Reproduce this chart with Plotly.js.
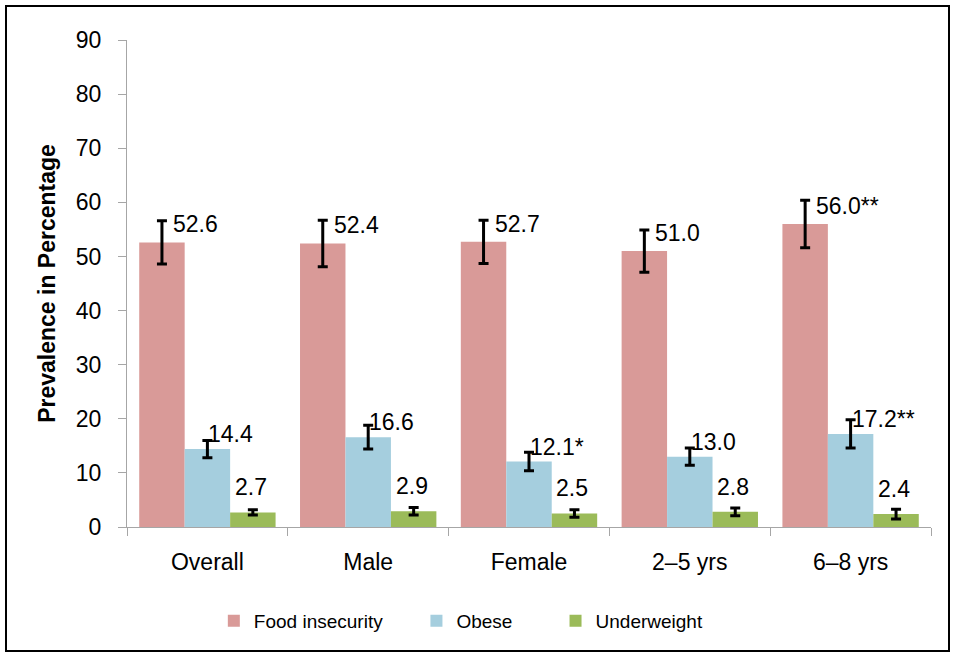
<!DOCTYPE html>
<html>
<head>
<meta charset="utf-8">
<script src="https://cdn.plot.ly/plotly-3.0.1.min.js"></script>
<style>
  html, body { margin: 0; padding: 0; background: #fff; }
  #wrap { position: relative; width: 957px; height: 657px; }
  #chart { width: 957px; height: 657px; }
  #frame { position: absolute; left: 5px; top: 5px; width: 941px; height: 643px;
           border: 2px solid #000; pointer-events: none; }
</style>
</head>
<body>
<div id="wrap">
  <div id="chart"></div>
  <div id="frame"></div>
</div>
<script>
// ---- data ----
const categories = ["Overall", "Male", "Female", "2\u20135 yrs", "6\u20138 yrs"];
const foodInsecurity = [52.6, 52.4, 52.7, 51.0, 56.0];
const foodErr        = [4.0, 4.3, 4.0, 3.9, 4.4];
const obese          = [14.4, 16.6, 12.1, 13.0, 17.2];
const obeseErr       = [1.6, 2.2, 1.7, 1.6, 2.6];
const underweight    = [2.7, 2.9, 2.5, 2.8, 2.4];
const underErr       = [0.5, 0.7, 0.7, 0.7, 0.9];
const foodLabels  = ["52.6", "52.4", "52.7", "51.0", "56.0**"];
const obeseLabels = ["14.4", "16.6", "12.1*", "13.0", "17.2**"];
const underLabels = ["2.7", "2.9", "2.5", "2.8", "2.4"];

// ---- styling ----
const FONT = "Liberation Sans, Arial, sans-serif";
const BARGAP = 0.152;
const barW = (1 - BARGAP) / 3;

function errBar(arr) {
  return { type: "data", array: arr, visible: true, color: "#000", thickness: 3, width: 5 };
}

const traces = [
  { type: "bar", name: "Food insecurity", x: categories, y: foodInsecurity, legend: "legend",
    marker: { color: "#D99A98" }, error_y: errBar(foodErr), hoverinfo: "y" },
  { type: "bar", name: "Obese", x: categories, y: obese, legend: "legend2",
    marker: { color: "#A5CEDE" }, error_y: errBar(obeseErr), hoverinfo: "y" },
  { type: "bar", name: "Underweight", x: categories, y: underweight, legend: "legend3",
    marker: { color: "#9BBB59" }, error_y: errBar(underErr), hoverinfo: "y" }
];

const annotations = [];
function addLabels(vals, labels, offset, xanchor, xshift, yshift) {
  vals.forEach((v, i) => {
    annotations.push({
      x: i + offset, y: v, xref: "x", yref: "y", text: labels[i], showarrow: false,
      xanchor: xanchor, yanchor: "middle", xshift: xshift, yshift: yshift,
      font: { family: FONT, size: 23, color: "#000" }
    });
  });
}
addLabels(foodInsecurity, foodLabels, -barW, "left", 9, 18);
addLabels(obese, obeseLabels, 0, "left", -1, 15);
addLabels(underweight, underLabels, barW, "center", -2, 25);

function legendAt(xFrac) {
  return {
    orientation: "h", x: xFrac, xanchor: "left", y: -0.193, yanchor: "middle",
    font: { family: FONT, size: 19, color: "#000" }, bgcolor: "rgba(0,0,0,0)"
  };
}

const layout = {
  width: 957, height: 657,
  margin: { l: 126.5, r: 25.5, t: 40, b: 130 },
  paper_bgcolor: "#fff", plot_bgcolor: "#fff",
  barmode: "group", bargap: BARGAP, bargroupgap: 0,
  showlegend: true,
  font: { family: FONT, size: 23, color: "#000" },
  xaxis: {
    type: "category", showgrid: false, zeroline: false,
    showline: true, linecolor: "#A6A6A6", linewidth: 1,
    ticks: "outside", tickson: "boundaries", ticklen: 8, tickcolor: "#A6A6A6",
    tickfont: { family: FONT, size: 23, color: "#000" },
    ticklabelstandoff: 14
  },
  yaxis: {
    range: [0, 90], tickvals: [0,10,20,30,40,50,60,70,80,90],
    showgrid: false, zeroline: false,
    showline: true, linecolor: "#A6A6A6", linewidth: 1,
    ticks: "outside", ticklen: 8, tickcolor: "#A6A6A6",
    tickfont: { family: FONT, size: 23, color: "#000" },
    ticklabelstandoff: 12,
    title: { text: "<b>Prevalence in Percentage</b>", standoff: 13,
             font: { family: FONT, size: 23, color: "#000" } }
  },
  legend: legendAt(0.108),
  legend2: legendAt(0.360),
  legend3: legendAt(0.533),
  annotations: annotations
};

Plotly.newPlot("chart", traces, layout, { displayModeBar: false, staticPlot: true });
</script>
</body>
</html>
